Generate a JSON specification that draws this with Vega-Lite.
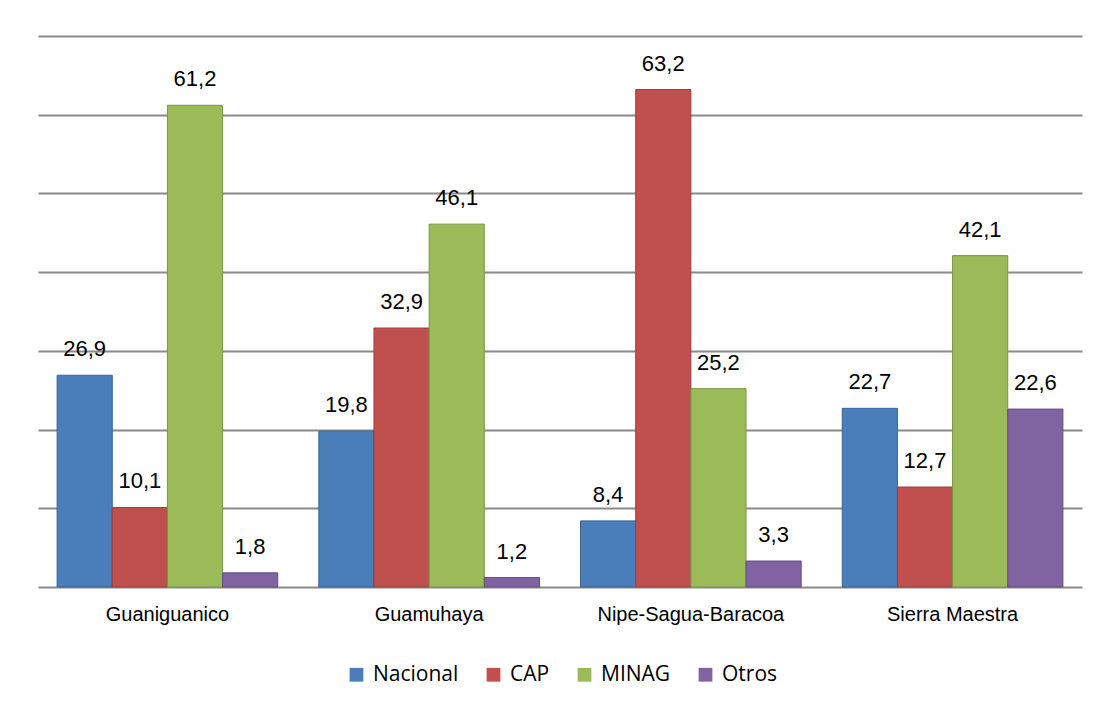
{
  "$schema": "https://vega.github.io/schema/vega-lite/v6.json",
  "width": 1044,
  "height": 551,
  "padding": {"left": 38, "top": 36, "right": 18, "bottom": 20},
  "background": "white",
  "data": {
    "values": [
      {"region": "Guaniguanico", "serie": "Nacional", "valor": 26.9},
      {"region": "Guaniguanico", "serie": "CAP", "valor": 10.1},
      {"region": "Guaniguanico", "serie": "MINAG", "valor": 61.2},
      {"region": "Guaniguanico", "serie": "Otros", "valor": 1.8},
      {"region": "Guamuhaya", "serie": "Nacional", "valor": 19.8},
      {"region": "Guamuhaya", "serie": "CAP", "valor": 32.9},
      {"region": "Guamuhaya", "serie": "MINAG", "valor": 46.1},
      {"region": "Guamuhaya", "serie": "Otros", "valor": 1.2},
      {"region": "Nipe-Sagua-Baracoa", "serie": "Nacional", "valor": 8.4},
      {"region": "Nipe-Sagua-Baracoa", "serie": "CAP", "valor": 63.2},
      {"region": "Nipe-Sagua-Baracoa", "serie": "MINAG", "valor": 25.2},
      {"region": "Nipe-Sagua-Baracoa", "serie": "Otros", "valor": 3.3},
      {"region": "Sierra Maestra", "serie": "Nacional", "valor": 22.7},
      {"region": "Sierra Maestra", "serie": "CAP", "valor": 12.7},
      {"region": "Sierra Maestra", "serie": "MINAG", "valor": 42.1},
      {"region": "Sierra Maestra", "serie": "Otros", "valor": 22.6}
    ]
  },
  "encoding": {
    "x": {
      "field": "region",
      "type": "nominal",
      "sort": null,
      "scale": {"paddingInner": 0.157, "paddingOuter": 0.073},
      "axis": {
        "title": null,
        "labelAngle": 0,
        "ticks": false,
        "domain": false,
        "labelFont": "Liberation Sans",
        "labelFontSize": 20,
        "labelColor": "#000000",
        "labelPadding": 17,
        "labelLimit": 0
      }
    },
    "xOffset": {
      "field": "serie",
      "type": "nominal",
      "sort": ["Nacional", "CAP", "MINAG", "Otros"],
      "scale": {"paddingInner": 0, "paddingOuter": 0}
    },
    "y": {
      "field": "valor",
      "type": "quantitative",
      "scale": {"domain": [0, 70], "nice": false},
      "axis": {
        "title": null,
        "labels": false,
        "ticks": false,
        "domain": false,
        "values": [0, 10, 20, 30, 40, 50, 60, 70],
        "grid": true,
        "gridColor": "#8a8a8a",
        "gridWidth": 2
      }
    }
  },
  "layer": [
    {
      "mark": {"type": "bar", "strokeWidth": 1},
      "encoding": {
        "color": {
          "field": "serie",
          "type": "nominal",
          "sort": ["Nacional", "CAP", "MINAG", "Otros"],
          "scale": {
            "domain": ["Nacional", "CAP", "MINAG", "Otros"],
            "range": ["#4a7ebb", "#c0504d", "#9bbb59", "#8064a2"]
          },
          "legend": {
            "orient": "none",
            "direction": "horizontal",
            "legendX": 308,
            "legendY": 628,
            "title": null,
            "symbolType": "square",
            "symbolSize": 190,
            "symbolStrokeWidth": 0,
            "labelFont": "Open Sans",
            "labelFontSize": 21,
            "labelColor": "#000000",
            "labelOffset": 6,
            "labelLimit": 0,
            "columnPadding": 24
          }
        },
        "stroke": {
          "field": "serie",
          "type": "nominal",
          "scale": {
            "domain": ["Nacional", "CAP", "MINAG", "Otros"],
            "range": ["#3a6396", "#9b3e3c", "#7a9645", "#634d80"]
          },
          "legend": null
        }
      }
    },
    {
      "mark": {
        "type": "text",
        "font": "Liberation Sans",
        "fontSize": 22,
        "baseline": "alphabetic",
        "dy": -19,
        "color": "#000000"
      },
      "encoding": {
        "text": {"field": "valor", "type": "quantitative", "format": ".1f"}
      }
    }
  ],
  "config": {
    "view": {"stroke": null},
    "locale": {
      "number": {"decimal": ",", "thousands": ".", "grouping": [3], "currency": ["", " €"]}
    }
  }
}
